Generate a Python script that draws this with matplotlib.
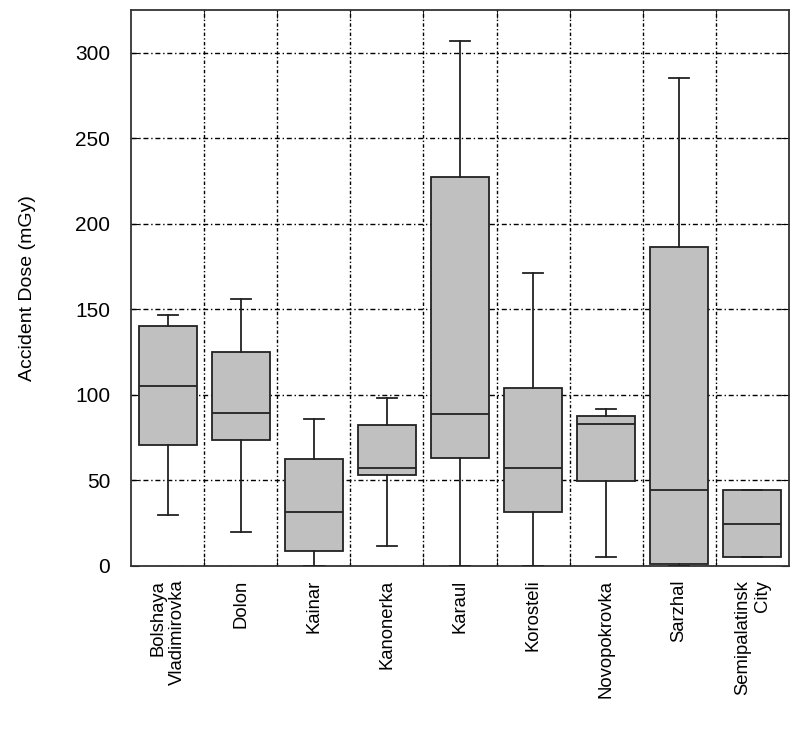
import matplotlib
matplotlib.use('Agg')
from matplotlib import pyplot as plt
from matplotlib.ticker import FixedLocator

plt.rcParams['font.family'] = ['Liberation Sans', 'DejaVu Sans']

villages = ['Bolshaya\nVladimirovka', 'Dolon', 'Kainar', 'Kanonerka', 'Karaul',
            'Korosteli', 'Novopokrovka', 'Sarzhal', 'Semipalatinsk\nCity']
whis_lo = [29.5, 19.8, 0.0, 11.7, 0.0, 0.0, 5.1, 0.0, 5.1]
q1 = [70.6, 73.7, 8.4, 53.2, 63.2, 31.3, 49.3, 1.0, 5.1]
median = [105.0, 89.3, 31.3, 57.3, 88.6, 57.3, 82.7, 44.4, 24.6]
q3 = [140.0, 125.3, 62.4, 82.1, 227.4, 104.0, 87.8, 186.7, 44.2]
whis_hi = [146.6, 156.0, 86.0, 98.3, 307.0, 171.3, 91.9, 285.6, 44.2]

stats = []
for i in range(len(villages)):
    stats.append({'whislo': whis_lo[i], 'q1': q1[i], 'med': median[i],
                  'q3': q3[i], 'whishi': whis_hi[i], 'fliers': []})

fig = plt.figure(figsize=(8, 7.3), dpi=100)
ax = fig.add_axes([0.164, 0.225, 0.822, 0.761])

pos = list(range(1, len(villages) + 1))
ax.bxp(stats, positions=pos, widths=0.8, patch_artist=True, showfliers=False,
       capwidths=0.28,
       boxprops=dict(facecolor='#c0c0c0', edgecolor='#222222', linewidth=1.3),
       medianprops=dict(color='#222222', linewidth=1.3),
       whiskerprops=dict(color='#222222', linewidth=1.3),
       capprops=dict(color='#222222', linewidth=1.3),
       zorder=3)

ax.set_xlim(0.5, len(villages) + 0.5)
ax.set_ylim(0, 325)
ax.set_yticks([0, 50, 100, 150, 200, 250, 300])
ax.set_xticks(pos)
ax.set_xticklabels(villages, rotation=90, multialignment='right', fontsize=13.3)
ax.xaxis.set_minor_locator(FixedLocator([p + 0.5 for p in pos[:-1]]))

ax.tick_params(axis='x', which='major', length=0, pad=10)
ax.tick_params(axis='x', which='minor', direction='in', length=6, top=True, bottom=True)
ax.tick_params(axis='y', which='major', direction='in', length=6, left=True, right=True,
               labelsize=15, pad=15)

ax.grid(True, axis='y', which='major', color='black', linestyle=(0, (3.6, 2, 1, 2)),
        linewidth=1.0, zorder=1)
ax.grid(True, axis='x', which='minor', color='black', linestyle=(0, (2.5, 1.6, 1, 1.6)),
        linewidth=1.0, zorder=1)
ax.set_axisbelow(True)

for s in ax.spines.values():
    s.set_linewidth(1.3)
    s.set_color('#333333')

ax.set_ylabel('Accident Dose (mGy)', fontsize=14)
ax.yaxis.set_label_coords(-0.145, 0.5)

fig.savefig('out.png', dpi=100)
